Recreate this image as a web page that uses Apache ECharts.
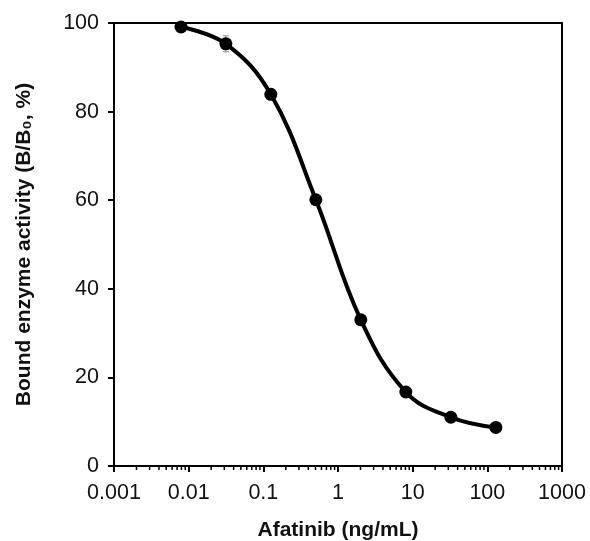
<!DOCTYPE html>
<html>
<head>
<meta charset="utf-8">
<title>Afatinib</title>
<script type="text/javascript" src="https://cdn.jsdelivr.net/npm/echarts@6/dist/echarts.min.js"></script>
</head>
<body style="margin:0;background:#fff;">
<div id="main" style="width:590px;height:541px;"></div>
<script type="text/javascript">
// concentrations (ng/mL) and B/B0 (%)
var conc = [0.0079, 0.0315, 0.126, 0.505, 2.02, 8.1, 32.5, 130];
var bound = [99.1, 95.3, 83.9, 60.1, 33.0, 16.7, 11.0, 8.7];
var errs = [0, 1.8, 0, 0, 0, 0, 0, 0];
var xTickLabels = ['0.001', '0.01', '0.1', '1', '10', '100', '1000'];
var yTicks = [0, 20, 40, 60, 80, 100];

// minor ticks of the log axis: 2..9 x each decade
var minorVals = [];
for (var d = 0; d < 6; d++) {
    for (var m = 2; m <= 9; m++) {
        minorVals.push([m * Math.pow(10, d - 3), 0]);
    }
}

var pts = [];
for (var i = 0; i < conc.length; i++) pts.push([conc[i], bound[i]]);
var errData = [];
for (var i = 0; i < conc.length; i++) {
    if (errs[i] > 0) errData.push([conc[i], bound[i] - errs[i], bound[i] + errs[i]]);
}

var font = 'Liberation Sans, Arial, sans-serif';
var chart = echarts.init(document.getElementById('main'));
chart.setOption({
    animation: false,
    grid: {
        left: 114, top: 23, width: 448, height: 443,
        outerBoundsMode: 'none', containLabel: false,
        show: true, borderColor: '#000', borderWidth: 2, backgroundColor: 'transparent'
    },
    xAxis: {
        type: 'log', logBase: 10, min: 0.001, max: 1000,
        name: 'Afatinib (ng/mL)', nameLocation: 'middle', nameGap: 54,
        nameTextStyle: { color: '#111', fontSize: 21, fontFamily: font, fontWeight: 'bold' },
        axisLine: { lineStyle: { color: '#000', width: 2 } },
        axisTick: { show: true, length: 6, lineStyle: { color: '#000', width: 2 } },
        axisLabel: {
            color: '#111', fontSize: 21.5, fontFamily: font, margin: 16,
            formatter: function (v) {
                var k = Math.round(Math.log10(v)) + 3;
                return xTickLabels[k] || '';
            }
        },
        splitLine: { show: false }
    },
    yAxis: {
        type: 'value', min: 0, max: 100, interval: 20,
        name: 'Bound enzyme activity (B/B\u2080, %)', nameLocation: 'middle', nameGap: 79,
        nameTextStyle: { color: '#111', fontSize: 21, fontFamily: font, fontWeight: 'bold' },
        axisLine: { show: true, lineStyle: { color: '#000', width: 2 } },
        axisTick: { show: true, length: 6, lineStyle: { color: '#000', width: 2 } },
        axisLabel: {
            color: '#111', fontSize: 21.5, fontFamily: font, margin: 15,
            formatter: function (v) { return yTicks.indexOf(v) >= 0 ? String(v) : ''; }
        },
        splitLine: { show: false }
    },
    series: [
        {
            type: 'custom',
            silent: true,
            clip: false,
            data: minorVals,
            renderItem: function (params, api) {
                var p = api.coord([api.value(0), 0]);
                return {
                    type: 'line',
                    shape: { x1: p[0], y1: p[1], x2: p[0], y2: p[1] + 4 },
                    style: { stroke: '#000', lineWidth: 1.5 }
                };
            }
        },
        {
            type: 'custom',
            silent: true,
            data: errData,
            z: 1,
            renderItem: function (params, api) {
                var lo = api.coord([api.value(0), api.value(1)]);
                var hi = api.coord([api.value(0), api.value(2)]);
                var w = 3;
                return {
                    type: 'group',
                    children: [
                        { type: 'line', shape: { x1: lo[0], y1: lo[1], x2: hi[0], y2: hi[1] }, style: { stroke: '#888', lineWidth: 1 } },
                        { type: 'line', shape: { x1: lo[0] - w, y1: lo[1], x2: lo[0] + w, y2: lo[1] }, style: { stroke: '#888', lineWidth: 1 } },
                        { type: 'line', shape: { x1: hi[0] - w, y1: hi[1], x2: hi[0] + w, y2: hi[1] }, style: { stroke: '#888', lineWidth: 1 } }
                    ]
                };
            }
        },
        {
            type: 'line',
            data: pts,
            smooth: 0.4,
            z: 3,
            symbol: 'circle',
            symbolSize: 13,
            itemStyle: { color: '#000' },
            lineStyle: { color: '#000', width: 4 }
        }
    ]
});
</script>
</body>
</html>
